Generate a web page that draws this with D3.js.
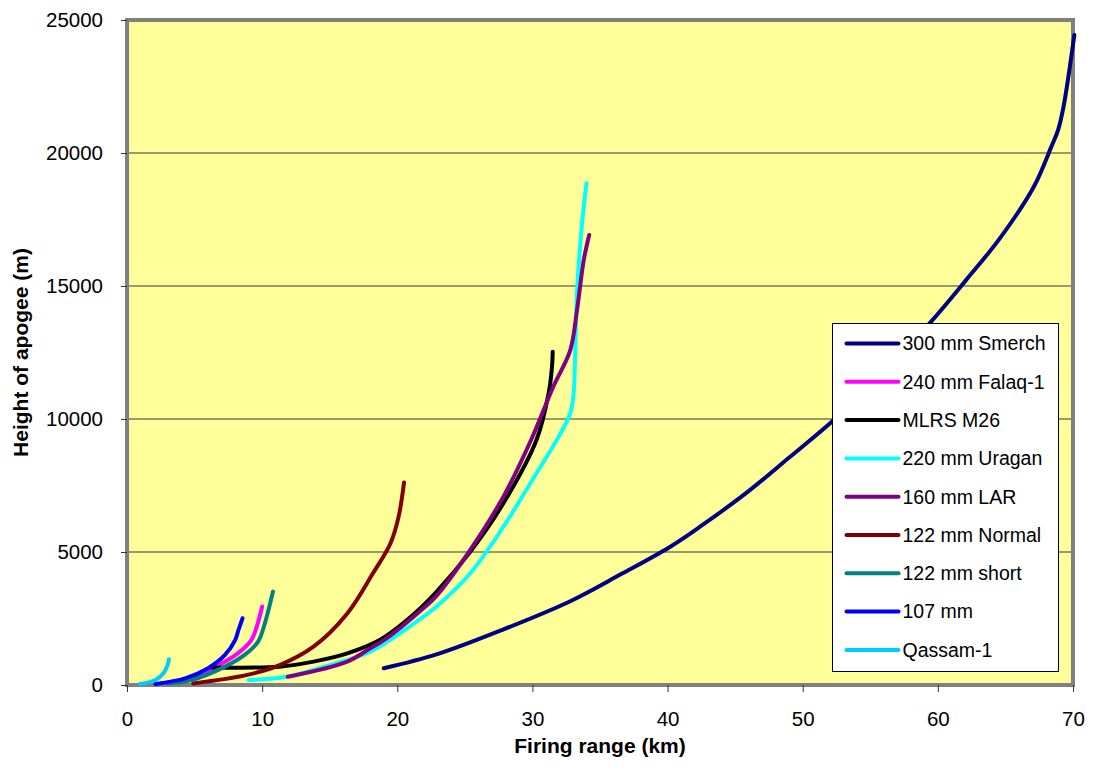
<!DOCTYPE html>
<html>
<head>
<meta charset="utf-8">
<script src="https://cdn.jsdelivr.net/npm/d3@7"></script>
<style>
  body { margin: 0; background: #fff; }
  text { font-family: "Liberation Sans", Arial, sans-serif; fill: #000; }
</style>
</head>
<body>
<div id="chart-area"></div>
<script>
// Data: range (km) and apogee height (m) per rocket
const seriesNames = ["300 mm Smerch", "240 mm Falaq-1", "MLRS M26", "220 mm Uragan",
  "160 mm LAR", "122 mm Normal", "122 mm short", "107 mm", "Qassam-1"]
const seriesColors = ["#000080", "#FF00FF", "#000000", "#00FFFF",
  "#800080", "#800000", "#008080", "#0000FF", "#00CCFF"]

const smerchX = [19, 22.9, 27.9, 32.8, 36.5, 40.2, 42.4, 45.9, 49, 52.3, 56, 59.5, 62.1, 64.6, 67.1, 68.4, 68.9, 69.3, 70.1]
const smerchY = [630, 1150, 2100, 3150, 4150, 5200, 5950, 7250, 8550, 9960, 11750, 13660, 15230, 16800, 18730, 20240, 20870, 21740, 24440]
const falaqX = [3.5, 5.5, 6.8, 8.2, 9.2, 9.6, 10.0]
const falaqY = [120, 420, 750, 1190, 1690, 2190, 2950]
const mlrsX = [6.3, 11.3, 13.8, 16.3, 18.7, 21.2, 22.9, 25.4, 27.85, 30.3, 31.2, 31.45, 31.5]
const mlrsY = [660, 690, 880, 1190, 1690, 2650, 3500, 5010, 6830, 9210, 10970, 11970, 12530]
const uraganX = [9.0, 11.8, 15.0, 18.0, 21.2, 22.9, 25.4, 27.85, 30.3, 31.9, 32.8, 33.05, 33.15, 33.3, 33.65, 34.0]
const uraganY = [190, 310, 750, 1250, 2300, 2950, 4200, 5950, 7960, 9300, 10210, 10970, 12220, 14730, 17230, 18860]
const larX = [11.9, 16.3, 18.0, 19.2, 21.7, 22.9, 25.4, 27.85, 29.9, 31.55, 32.8, 33.3, 33.8, 34.2]
const larY = [310, 880, 1380, 1750, 2780, 3350, 5080, 7080, 9210, 11220, 12590, 14100, 15980, 16920]
const normalX = [4.9, 8.9, 11.3, 13.8, 16.3, 18.2, 19.5, 20.1, 20.5]
const normalY = [60, 380, 750, 1440, 2690, 4200, 5330, 6330, 7610]
const shortX = [3.0, 4.8, 7.25, 8.7, 9.7, 10.2, 10.8]
const shortY = [60, 190, 690, 1130, 1630, 2320, 3510]
const m107X = [2.1, 4.3, 6.0, 7.25, 8.0, 8.25, 8.55]
const m107Y = [40, 250, 630, 1130, 1690, 2070, 2510]
const qassamX = [0.95, 2.1, 2.7, 3.0, 3.1]
const qassamY = [40, 190, 440, 750, 970]

const xTicks = [0, 10, 20, 30, 40, 50, 60, 70]
const yTicks = [0, 5000, 10000, 15000, 20000, 25000]

const seriesXs = [smerchX, falaqX, mlrsX, uraganX, larX, normalX, shortX, m107X, qassamX]
const seriesYs = [smerchY, falaqY, mlrsY, uraganY, larY, normalY, shortY, m107Y, qassamY]

const series = seriesNames.map((name, i) => ({
  name: name,
  color: seriesColors[i],
  values: seriesXs[i].map((x, j) => ({ x: x, y: seriesYs[i][j] }))
}))

const MARGIN = { LEFT: 127, RIGHT: 21, TOP: 20, BOTTOM: 87 }
const WIDTH = 1094 - MARGIN.LEFT - MARGIN.RIGHT
const HEIGHT = 772 - MARGIN.TOP - MARGIN.BOTTOM

const svg = d3.select("#chart-area").append("svg")
  .attr("width", 1094)
  .attr("height", 772)

const g = svg.append("g")
  .attr("transform", `translate(${MARGIN.LEFT}, ${MARGIN.TOP})`)

// Scales
const x = d3.scaleLinear().domain([0, 70]).range([0, WIDTH])
const y = d3.scaleLinear().domain([0, 25000]).range([HEIGHT, 0])

// plot background
g.append("rect")
  .attr("width", WIDTH)
  .attr("height", HEIGHT)
  .attr("fill", "#FFFF99")

// gridlines
g.append("g")
  .selectAll("line")
  .data(yTicks.filter(d => d > 0 && d < 25000))
  .enter().append("line")
  .attr("x1", 0).attr("x2", WIDTH)
  .attr("y1", d => y(d)).attr("y2", d => y(d))
  .attr("stroke", "#77775a")
  .attr("stroke-width", 1.5)

// plot border
g.append("rect")
  .attr("width", WIDTH)
  .attr("height", HEIGHT)
  .attr("fill", "none")
  .attr("stroke", "#808080")
  .attr("stroke-width", 4)

// X Axis
const xAxisCall = d3.axisBottom(x).tickValues(xTicks).tickSize(7).tickPadding(19)
const xAxis = g.append("g")
  .attr("transform", `translate(0, ${HEIGHT})`)
  .call(xAxisCall)
xAxis.select(".domain").remove()
xAxis.selectAll("line").attr("stroke", "#333")
xAxis.selectAll("text")
  .attr("font-size", "20.5px")
  .style("font-family", "'Liberation Sans', Arial, sans-serif")

// Y Axis
const yAxisCall = d3.axisLeft(y).tickValues(yTicks).tickSize(6).tickPadding(18)
  .tickFormat(d3.format("d"))
const yAxis = g.append("g").call(yAxisCall)
yAxis.select(".domain").remove()
yAxis.selectAll("line").attr("stroke", "#333")
yAxis.selectAll("text")
  .attr("font-size", "20.5px")
  .style("font-family", "'Liberation Sans', Arial, sans-serif")

// Labels
g.append("text")
  .attr("x", WIDTH / 2)
  .attr("y", HEIGHT + 68)
  .attr("font-size", "21px")
  .attr("font-weight", "bold")
  .attr("text-anchor", "middle")
  .text("Firing range (km)")
g.append("text")
  .attr("transform", "rotate(-90)")
  .attr("x", -HEIGHT / 2)
  .attr("y", -99)
  .attr("font-size", "21px")
  .attr("font-weight", "bold")
  .attr("text-anchor", "middle")
  .text("Height of apogee (m)")

// Lines
const line = d3.line()
  .x(d => x(d.x))
  .y(d => y(d.y))
  .curve(d3.curveCatmullRom.alpha(0.5))

g.append("g")
  .selectAll("path")
  .data(series)
  .enter().append("path")
  .attr("d", d => line(d.values))
  .attr("fill", "none")
  .attr("stroke", d => d.color)
  .attr("stroke-width", 4)
  .attr("stroke-linecap", "round")
  .attr("stroke-linejoin", "round")

// Legend
const legend = svg.append("g")
  .attr("transform", "translate(832.5, 323.5)")
legend.append("rect")
  .attr("width", 226)
  .attr("height", 348)
  .attr("fill", "#fff")
  .attr("stroke", "#000")
  .attr("stroke-width", 1)

const legendItem = legend.selectAll(".item")
  .data(series)
  .enter().append("g")
  .attr("class", "item")
  .attr("transform", (d, i) => `translate(0, ${20 + i * 38.3})`)

legendItem.append("line")
  .attr("x1", 14).attr("x2", 66)
  .attr("stroke", d => d.color)
  .attr("stroke-width", 4)
  .attr("stroke-linecap", "round")

legendItem.append("text")
  .attr("x", 70)
  .attr("dy", "0.35em")
  .attr("font-size", "19.5px")
  .text(d => d.name)
</script>
</body>
</html>
